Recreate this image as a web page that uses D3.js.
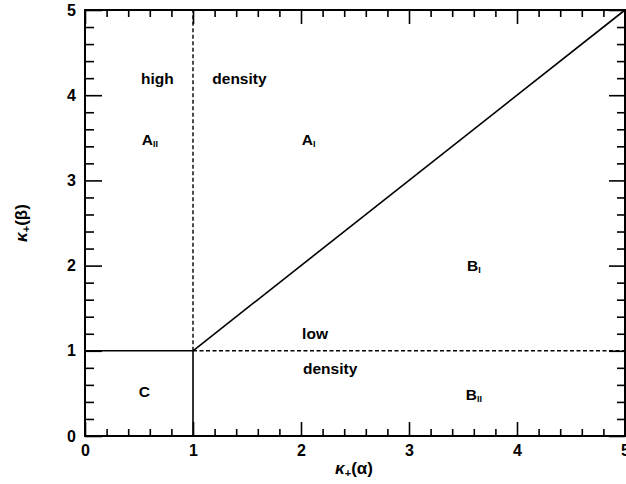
<!DOCTYPE html>
<html><head><meta charset="utf-8">
<script src="https://cdn.jsdelivr.net/npm/d3@7"></script>
<style>
body{margin:0;background:#fff}
svg{display:block}
text{font-family:"Liberation Sans",Arial,Helvetica,sans-serif;fill:#000}
</style></head><body>
<svg id="c" width="626" height="484"></svg>
<script>
const majorTicks = [0,1,2,3,4,5];
const minorTicks = [0.2,0.4,0.6,0.8,1.2,1.4,1.6,1.8,2.2,2.4,2.6,2.8,3.2,3.4,3.6,3.8,4.2,4.4,4.6,4.8];
const solidLines = [ [[0,1],[1,1]], [[1,0],[1,1]], [[1,1],[5,5]] ];
const dashedLines = [ [[1,1],[1,5]], [[1,1],[5,1]] ];
const regionLabels = [
  {text:"high", sub:"", x:0.67, y:4.18},
  {text:"density", sub:"", x:1.43, y:4.18},
  {text:"A", sub:"II", x:0.6, y:3.46},
  {text:"A", sub:"I", x:2.07, y:3.46},
  {text:"B", sub:"I", x:3.6, y:1.98},
  {text:"low", sub:"", x:2.13, y:1.18},
  {text:"density", sub:"", x:2.27, y:0.77},
  {text:"B", sub:"II", x:3.6, y:0.47},
  {text:"C", sub:"", x:0.55, y:0.5}
];

const svg = d3.select("#c");
const x = d3.scaleLinear().domain([0,5]).range([85,625]);
const y = d3.scaleLinear().domain([0,5]).range([436,10]);

function styleAxis(g){
  g.select(".domain").remove();
  g.selectAll("line").attr("stroke","#000").attr("stroke-width",1.6);
  g.selectAll("text").attr("font-size",16).attr("font-weight","bold").attr("fill","#000");
}
// bottom
svg.append("g").attr("transform",`translate(0,${y(0)})`)
  .call(d3.axisBottom(x).tickValues(majorTicks).tickSize(-14).tickPadding(9).tickFormat(d3.format("d"))).call(styleAxis);
svg.append("g").attr("transform",`translate(0,${y(0)})`)
  .call(d3.axisBottom(x).tickValues(minorTicks).tickSize(-7).tickFormat("")).call(styleAxis);
// top
svg.append("g").attr("transform",`translate(0,${y(5)})`)
  .call(d3.axisTop(x).tickValues(majorTicks).tickSize(-14).tickFormat("")).call(styleAxis);
svg.append("g").attr("transform",`translate(0,${y(5)})`)
  .call(d3.axisTop(x).tickValues(minorTicks).tickSize(-7).tickFormat("")).call(styleAxis);
// left
svg.append("g").attr("transform",`translate(${x(0)},0)`)
  .call(d3.axisLeft(y).tickValues(majorTicks).tickSize(-17).tickPadding(9).tickFormat(d3.format("d"))).call(styleAxis);
svg.append("g").attr("transform",`translate(${x(0)},0)`)
  .call(d3.axisLeft(y).tickValues(minorTicks).tickSize(-9).tickFormat("")).call(styleAxis);
// right
svg.append("g").attr("transform",`translate(${x(5)},0)`)
  .call(d3.axisRight(y).tickValues(majorTicks).tickSize(-16).tickFormat("")).call(styleAxis);
svg.append("g").attr("transform",`translate(${x(5)},0)`)
  .call(d3.axisRight(y).tickValues(minorTicks).tickSize(-8).tickFormat("")).call(styleAxis);

// frame
svg.append("rect").attr("x",x(0)).attr("y",y(5)).attr("width",x(5)-x(0)).attr("height",y(0)-y(5))
  .attr("fill","none").attr("stroke","#000").attr("stroke-width",2);

const line = d3.line().x(d=>x(d[0])).y(d=>y(d[1]));
svg.selectAll("path.solid").data(solidLines).enter().append("path").attr("class","solid")
  .attr("d",line).attr("fill","none").attr("stroke","#000").attr("stroke-width",1.6);
svg.selectAll("path.dash").data(dashedLines).enter().append("path").attr("class","dash")
  .attr("d",line).attr("fill","none").attr("stroke","#000").attr("stroke-width",1.4).attr("stroke-dasharray","4,2.5");

const lbl = svg.selectAll("text.reg").data(regionLabels).enter().append("text").attr("class","reg")
  .attr("x",d=>x(d.x)).attr("y",d=>y(d.y)).attr("text-anchor","middle").attr("dominant-baseline","middle")
  .attr("font-size",15.5).attr("font-weight","bold");
lbl.append("tspan").text(d=>d.text);
lbl.filter(d=>d.sub).append("tspan").attr("font-size",9).attr("dy",4).text(d=>d.sub);

// axis titles
const xt = svg.append("text").attr("x",354).attr("y",474).attr("text-anchor","middle")
  .attr("font-size",17).attr("font-weight","bold");
xt.append("tspan").attr("font-style","italic").text("κ");
xt.append("tspan").attr("font-size",11).attr("dy",3).text("+");
xt.append("tspan").attr("dy",-3).text("(α)");
const yt = svg.append("text").attr("transform","translate(27,223) rotate(-90)").attr("text-anchor","middle")
  .attr("font-size",17).attr("font-weight","bold");
yt.append("tspan").attr("font-style","italic").text("κ");
yt.append("tspan").attr("font-size",11).attr("dy",3).text("+");
yt.append("tspan").attr("dy",-3).text("(β)");
</script></body></html>
